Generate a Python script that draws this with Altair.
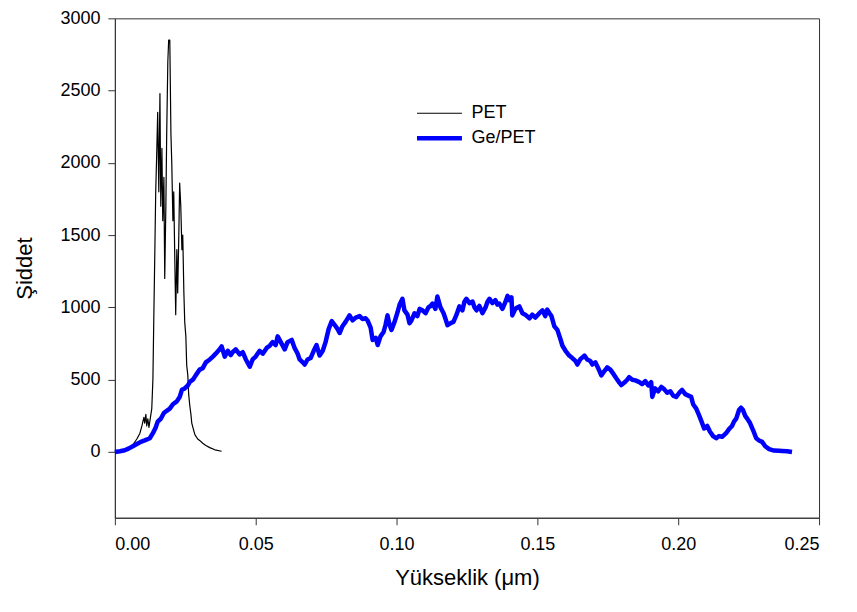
import altair as alt
import pandas as pd

pet_x = [0.0000, 0.0018, 0.0035, 0.0053, 0.0064, 0.0078, 0.0089, 0.0096, 0.0103, 0.0106,
         0.0110, 0.0113, 0.0117, 0.0121, 0.0124, 0.0131, 0.0135, 0.0138, 0.0142, 0.0145,
         0.0149, 0.0152, 0.0156, 0.0160, 0.0163, 0.0167, 0.0170, 0.0174, 0.0177, 0.0181,
         0.0184, 0.0188, 0.0191, 0.0195, 0.0199, 0.0202, 0.0206, 0.0209, 0.0213, 0.0216,
         0.0220, 0.0223, 0.0227, 0.0230, 0.0234, 0.0238, 0.0241, 0.0245, 0.0248, 0.0252,
         0.0255, 0.0259, 0.0262, 0.0266, 0.0270, 0.0273, 0.0277, 0.0284, 0.0294, 0.0301,
         0.0312, 0.0323, 0.0337, 0.0355, 0.0379]
pet_y = [0, 5, 12, 30, 50, 90, 130, 180, 240, 200,
         260, 180, 230, 170, 210, 300, 500, 900, 1400, 1800,
         2100, 2350, 1800, 2480, 1700, 2100, 1600, 1900, 1200, 1700,
         2200, 2700, 2850, 2850, 2200, 2000, 1600, 1800, 1300, 950,
         1400, 1100, 1500, 1860, 1700, 1400, 1500, 1100, 900, 800,
         600, 530, 400, 320, 260, 200, 170, 120, 90, 80,
         60, 45, 30, 15, 5]

ge_x = [0.0000, 0.0018, 0.0035, 0.0050, 0.0064, 0.0078, 0.0092, 0.0106, 0.0124, 0.0135,
        0.0145, 0.0152, 0.0163, 0.0174, 0.0184, 0.0195, 0.0206, 0.0220, 0.0230, 0.0238,
        0.0248, 0.0259, 0.0266, 0.0277, 0.0287, 0.0301, 0.0312, 0.0323, 0.0337, 0.0348,
        0.0358, 0.0372, 0.0379, 0.0390, 0.0401, 0.0411, 0.0418, 0.0429, 0.0443, 0.0454,
        0.0465, 0.0479, 0.0489, 0.0500, 0.0514, 0.0525, 0.0539, 0.0550, 0.0560, 0.0571,
        0.0578, 0.0589, 0.0603, 0.0613, 0.0628, 0.0638, 0.0649, 0.0656, 0.0667, 0.0674,
        0.0684, 0.0695, 0.0706, 0.0716, 0.0727, 0.0738, 0.0748, 0.0759, 0.0770, 0.0780,
        0.0791, 0.0798, 0.0808, 0.0819, 0.0833, 0.0844, 0.0855, 0.0869, 0.0879, 0.0890,
        0.0897, 0.0908, 0.0915, 0.0926, 0.0933, 0.0943, 0.0954, 0.0961, 0.0968, 0.0975,
        0.0982, 0.0993, 0.1004, 0.1011, 0.1021, 0.1028, 0.1039, 0.1046, 0.1053, 0.1064,
        0.1074, 0.1082, 0.1092, 0.1103, 0.1113, 0.1121, 0.1128, 0.1138, 0.1145, 0.1156,
        0.1167, 0.1174, 0.1181, 0.1191, 0.1202, 0.1213, 0.1223, 0.1234, 0.1241, 0.1248,
        0.1259, 0.1270, 0.1277, 0.1284, 0.1294, 0.1305, 0.1316, 0.1323, 0.1330, 0.1340,
        0.1351, 0.1358, 0.1365, 0.1376, 0.1387, 0.1394, 0.1401, 0.1408, 0.1411, 0.1422,
        0.1429, 0.1436, 0.1447, 0.1457, 0.1472, 0.1482, 0.1493, 0.1507, 0.1518, 0.1528,
        0.1535, 0.1543, 0.1550, 0.1560, 0.1571, 0.1582, 0.1589, 0.1600, 0.1613, 0.1624,
        0.1635, 0.1642, 0.1652, 0.1667, 0.1677, 0.1688, 0.1695, 0.1706, 0.1716, 0.1727,
        0.1738, 0.1748, 0.1759, 0.1770, 0.1780, 0.1791, 0.1798, 0.1809, 0.1819, 0.1826,
        0.1837, 0.1848, 0.1862, 0.1872, 0.1883, 0.1894, 0.1904, 0.1908, 0.1918, 0.1929,
        0.1940, 0.1950, 0.1961, 0.1972, 0.1982, 0.1993, 0.2004, 0.2014, 0.2025, 0.2036,
        0.2046, 0.2053, 0.2064, 0.2075, 0.2085, 0.2092, 0.2103, 0.2113, 0.2124, 0.2135,
        0.2145, 0.2156, 0.2170, 0.2181, 0.2191, 0.2198, 0.2206, 0.2216, 0.2223, 0.2230,
        0.2238, 0.2245, 0.2255, 0.2266, 0.2277, 0.2287, 0.2298, 0.2309, 0.2323, 0.2340,
        0.2358, 0.2369, 0.2387, 0.2404]
ge_y = [0, 5, 12, 25, 40, 55, 70, 80, 95, 130,
        170, 210, 230, 270, 285, 300, 330, 350, 380, 430,
        440, 460, 485, 500, 530, 570, 580, 620, 640, 660,
        680, 710, 730, 660, 700, 670, 690, 710, 675, 690,
        640, 590, 640, 660, 700, 680, 720, 735, 760, 740,
        800, 760, 710, 760, 775, 720, 680, 640, 620, 605,
        640, 650, 700, 740, 667, 700, 760, 850, 905, 880,
        850, 823, 870, 900, 945, 910, 930, 940, 920, 925,
        910, 860, 775, 790, 740, 800, 830, 880, 945, 880,
        845, 900, 970, 1020, 1060, 980, 950, 890, 910, 960,
        940, 990, 980, 960, 1000, 1010, 1027, 990, 1075, 1000,
        960, 920, 877, 890, 900, 950, 1007, 980, 1040, 1060,
        1030, 1040, 1000, 980, 1010, 960, 1000, 1040, 1060, 1030,
        1050, 1020, 1027, 990, 1040, 1080, 1050, 1070, 945, 990,
        1000, 1007, 960, 950, 925, 950, 930, 960, 980, 940,
        985, 960, 940, 870, 845, 780, 735, 700, 667, 650,
        630, 605, 640, 667, 640, 630, 605, 620, 580, 530,
        560, 585, 570, 540, 510, 480, 463, 480, 500, 517,
        500, 495, 483, 470, 490, 460, 483, 381, 440, 420,
        450, 435, 410, 420, 390, 381, 410, 429, 400, 390,
        381, 330, 300, 250, 200, 163, 180, 140, 110, 95,
        110, 105, 130, 160, 180, 210, 231, 290, 306, 290,
        250, 231, 200, 150, 95, 80, 70, 40, 20, 10,
        8, 7, 5, 0]

series_names = ["PET", "Ge/PET"]
series_colors = ["#000000", "#0000ff"]
series_widths = [1.2, 4.5]
x_ticks = [0.0, 0.05, 0.10, 0.15, 0.20, 0.25]
y_ticks = [0, 500, 1000, 1500, 2000, 2500, 3000]

df = pd.concat([
    pd.DataFrame({"x": pet_x, "y": pet_y, "series": "PET", "order": range(len(pet_x))}),
    pd.DataFrame({"x": ge_x, "y": ge_y, "series": "Ge/PET", "order": range(len(ge_x))}),
])

FONT = "Liberation Sans"

legend = alt.Legend(
    title=None, orient="none", legendX=315, legendY=86, padding=0,
    symbolType="M-3,0H3", symbolSize=225, labelFontSize=18,
    labelFont=FONT, labelColor="#000", labelOffset=22, rowPadding=6,
)

chart = alt.Chart(df).mark_line(strokeJoin="round").encode(
    x=alt.X("x:Q", scale=alt.Scale(domain=[0, 0.25], nice=False),
            axis=alt.Axis(title="Yükseklik (μm)", values=x_ticks, format=".2f")),
    y=alt.Y("y:Q", scale=alt.Scale(domain=[-455, 3000], nice=False, zero=False),
            axis=alt.Axis(title="Şiddet", values=y_ticks, format="d")),
    color=alt.Color("series:N", scale=alt.Scale(domain=series_names, range=series_colors),
                    legend=legend),
    strokeWidth=alt.StrokeWidth("series:N", scale=alt.Scale(domain=series_names, range=series_widths),
                                legend=legend),
    detail="series:N",
    order="order:Q",
).properties(
    width=705, height=500,
    autosize=alt.AutoSizeParams(type="none"),
    padding={"left": 107, "top": 10, "right": 30, "bottom": 86},
).configure_view(
    stroke="#333333", strokeWidth=1
).configure_axis(
    grid=False, domainColor="#333333", tickColor="#333333", tickSize=7,
    labelFont=FONT, labelFontSize=18, labelColor="#000",
    titleFont=FONT, titleFontSize=22, titleFontWeight="normal", titleColor="#000",
).configure_axisX(
    labelPadding=11, titlePadding=14
).configure_axisY(
    labelPadding=8, titlePadding=23
)

chart.save("out.html", embed_options={"renderer": "svg", "actions": False})
